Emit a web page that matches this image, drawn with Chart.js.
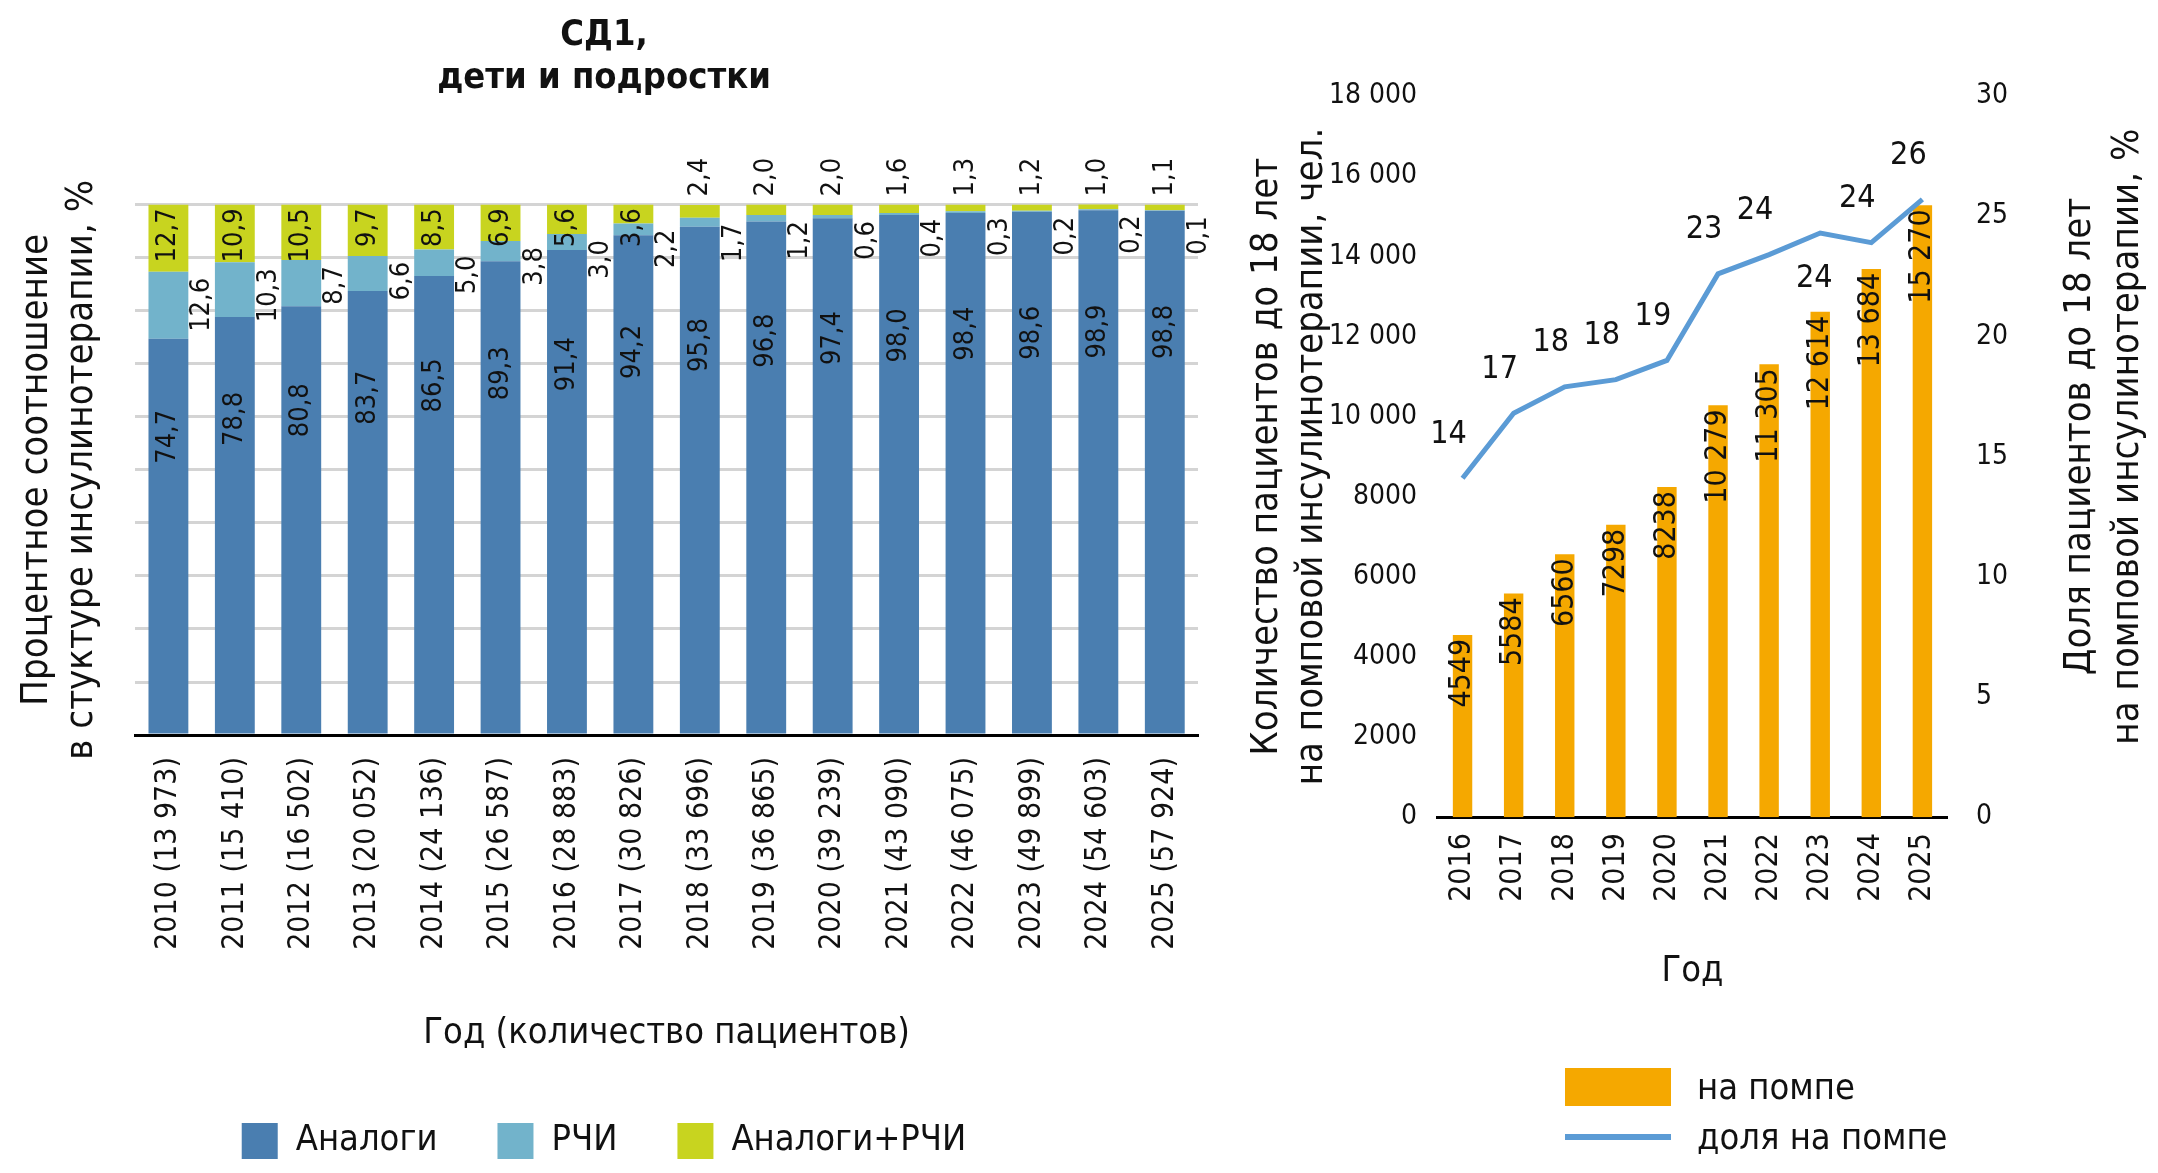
<!DOCTYPE html>
<html><head><meta charset="utf-8">
<script src="https://cdn.jsdelivr.net/npm/chart.js@4"></script>
<style>
body{margin:0;background:#fff;width:2158px;height:1173px;overflow:hidden;position:relative;font-family:'Liberation Sans Narrow','DejaVu Sans Condensed',sans-serif}
#c1{position:absolute;left:0;top:0}
#c2{position:absolute;left:1240px;top:0}
#lg2{position:absolute;left:1565px;top:1062px;font-size:36px;color:#111;line-height:50px}
#lg2 div{display:flex;align-items:center}
#lg2 span.b{display:inline-block;width:106px;height:38px;background:#F5A800;margin-right:26px}
#lg2 span.l{display:inline-block;width:106px;height:6px;background:#5B9BD5;margin-right:26px}
</style></head><body>
<canvas id="c1" width="1250" height="1173"></canvas>
<canvas id="c2" width="918" height="1173"></canvas>
<div id="lg2"><div><span class="b"></span>на помпе</div><div><span class="l"></span>доля на помпе</div></div>
<script>
const years1 = ['2010 (13 973)','2011 (15 410)','2012 (16 502)','2013 (20 052)','2014 (24 136)','2015 (26 587)','2016 (28 883)','2017 (30 826)','2018 (33 696)','2019 (36 865)','2020 (39 239)','2021 (43 090)','2022 (46 075)','2023 (49 899)','2024 (54 603)','2025 (57 924)'];
const analogi = [74.7,78.8,80.8,83.7,86.5,89.3,91.4,94.2,95.8,96.8,97.4,98.0,98.4,98.6,98.9,98.8];
const rchi = [12.6,10.3,8.7,6.6,5.0,3.8,3.0,2.2,1.7,1.2,0.6,0.4,0.3,0.2,0.2,0.1];
const mixed = [12.7,10.9,10.5,9.7,8.5,6.9,5.6,3.6,2.4,2.0,2.0,1.6,1.3,1.2,1.0,1.1];

const years2 = ['2016','2017','2018','2019','2020','2021','2022','2023','2024','2025'];
const pump = [4549,5584,6560,7298,8238,10279,11305,12614,13684,15270];
const pumpLabels = ['4549','5584','6560','7298','8238','10 279','11 305','12 614','13 684','15 270'];
const share = [14.1,16.8,17.9,18.2,19.0,22.6,23.4,24.3,23.9,25.7];
const shareLabels = ['14','17','18','18','19','23','24','24','24','26'];

const FONT = "'Liberation Sans Narrow','DejaVu Sans Condensed',sans-serif";
Chart.defaults.font.family = FONT;
Chart.defaults.color = '#111';

const fmt = v => v.toFixed(1).replace('.', ',');

function vtext(ctx, txt, x, y, align) {
  ctx.save();
  ctx.translate(x, y);
  ctx.rotate(-Math.PI/2);
  ctx.textAlign = align;
  ctx.textBaseline = 'middle';
  ctx.fillText(txt, 0, 0);
  ctx.restore();
}

const labels1 = {
  id: 'labels1',
  afterDatasetsDraw(chart) {
    const ctx = chart.ctx;
    ctx.font = '27px ' + FONT;
    ctx.fillStyle = '#111';
    const top = chart.scales.y.getPixelForValue(100);
    chart.getDatasetMeta(0).data.forEach((b, i) => {
      vtext(ctx, fmt(analogi[i]), b.x, b.y + (b.base - b.y) * 0.18, 'right');
      vtext(ctx, fmt(rchi[i]), b.x + 34, chart.scales.y.getPixelForValue(analogi[i] + rchi[i]) + 6, 'right');
      const m = chart.getDatasetMeta(2).data[i];
      if (mixed[i] >= 3) vtext(ctx, fmt(mixed[i]), m.x, top + 4, 'right');
      else vtext(ctx, fmt(mixed[i]), m.x, top - 8, 'left');
    });
  }
};

new Chart(document.getElementById('c1'), {
  type: 'bar',
  data: {
    labels: years1,
    datasets: [
      {label: 'Аналоги', data: analogi, backgroundColor: '#4A7EB0', barPercentage: 0.6, categoryPercentage: 1},
      {label: 'РЧИ', data: rchi, backgroundColor: '#72B3CB', barPercentage: 0.6, categoryPercentage: 1},
      {label: 'Аналоги+РЧИ', data: mixed, backgroundColor: '#C8D41F', barPercentage: 0.6, categoryPercentage: 1}
    ]
  },
  options: {
    responsive: false, animation: false,
    layout: {padding: {top: 0, right: 52, left: 10, bottom: 4}},
    plugins: {
      title: {display: true, text: ['СД1,', 'дети и подростки'], font: {size: 36, weight: 'bold'}, color: '#111', padding: {top: 14, bottom: 104}},
      legend: {position: 'bottom', labels: {font: {size: 36}, boxWidth: 36, boxHeight: 36, padding: 60}},
      tooltip: {enabled: false}
    },
    scales: {
      x: {stacked: true, grid: {display: false}, border: {color: '#000', width: 3},
          ticks: {font: {size: 30}, minRotation: 90, maxRotation: 90, color: '#111', padding: 14},
          title: {display: true, text: 'Год (количество пациентов)', font: {size: 36}, padding: {top: 48, bottom: 8}}},
      y: {stacked: true, min: 0, max: 100, ticks: {display: false, stepSize: 10},
          grid: {color: '#d4d4d4', lineWidth: 3, drawTicks: false}, border: {display: false},
          title: {display: true, text: ['Процентное соотношение', 'в стуктуре инсулинотерапии, %'], font: {size: 38}, padding: {bottom: 30}}}
    }
  },
  plugins: [labels1]
});

const labels2 = {
  id: 'labels2',
  afterDatasetsDraw(chart) {
    const ctx = chart.ctx;
    ctx.fillStyle = '#111';
    ctx.font = '30px ' + FONT;
    chart.getDatasetMeta(1).data.forEach((b, i) => {
      vtext(ctx, pumpLabels[i], b.x, b.y + 4, 'right');
    });
    ctx.font = '32px ' + FONT;
    chart.getDatasetMeta(0).data.forEach((p, i) => {
      ctx.textAlign = 'center';
      ctx.textBaseline = 'middle';
      const dy = i === 7 ? 46 : -44;
      ctx.fillText(shareLabels[i], p.x - (i === 7 ? 6 : 14), p.y + dy);
    });
    // right axis title
    const r = chart.scales.y2;
    ctx.font = '38px ' + FONT;
    const cy = (r.top + r.bottom) / 2 - 20;
    vtext(ctx, 'Доля пациентов до 18 лет', 840, cy, 'center');
    vtext(ctx, 'на помповой инсулинотерапии, %', 888, cy, 'center');
  }
};

new Chart(document.getElementById('c2'), {
  data: {
    labels: years2,
    datasets: [
      {type: 'line', label: 'доля на помпе', data: share, yAxisID: 'y2', borderColor: '#5B9BD5', borderWidth: 5, pointRadius: 0, tension: 0},
      {type: 'bar', label: 'на помпе', data: pump, yAxisID: 'y', backgroundColor: '#F5A800', barPercentage: 0.38, categoryPercentage: 1}
    ]
  },
  options: {
    responsive: false, animation: false,
    layout: {padding: {top: 96, right: 130, left: 0, bottom: 176}},
    plugins: {legend: {display: false}, tooltip: {enabled: false}},
    scales: {
      x: {grid: {display: false, drawTicks: true}, border: {color: '#000', width: 3},
          ticks: {font: {size: 30}, minRotation: 90, maxRotation: 90, color: '#111', padding: 8},
          title: {display: true, text: 'Год', font: {size: 36}, padding: {top: 40}}},
      y: {position: 'left', min: 0, max: 18000, ticks: {stepSize: 2000, font: {size: 28}, padding: 12,
            callback: v => v >= 10000 ? String(v).replace(/(\d+)(\d{3})$/, '$1 $2') : String(v)},
          grid: {display: false}, border: {display: false},
          title: {display: true, text: ['Количество пациентов до 18 лет', 'на помповой инсулинотерапии, чел.'], font: {size: 38}, padding: {bottom: 14}}},
      y2: {position: 'right', min: 0, max: 30, ticks: {stepSize: 5, font: {size: 28}, padding: 20},
          grid: {display: false}, border: {display: false}}
    }
  },
  plugins: [labels2]
});
</script>
</body></html>
